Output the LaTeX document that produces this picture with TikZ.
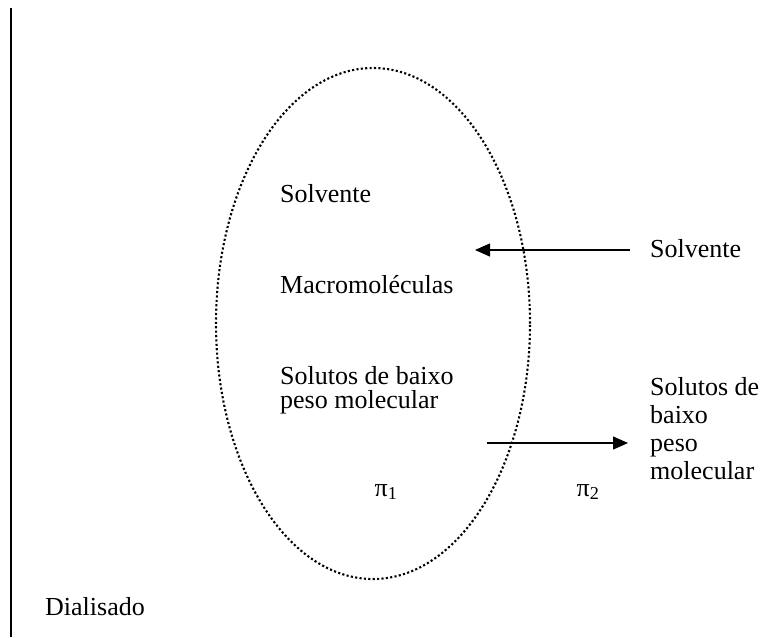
\documentclass[tikz,border=0pt]{standalone}
\usepackage{fontspec}
\setmainfont{Liberation Serif}
\usetikzlibrary{arrows.meta,shapes.geometric}
\begin{document}
\begin{tikzpicture}[x=1pt,y=-1pt,
  lbl/.style={anchor=base west,inner sep=0pt,font=\fontsize{26}{30}\selectfont},
  pilbl/.style={anchor=base,inner sep=0pt,font=\fontsize{26}{30}\selectfont},
  flow/.style={line width=1.3pt,-{Triangle[length=15pt,width=13pt]}},
  membrane/.style={line width=2.1pt,dash pattern=on 2.1pt off 2.3pt}]
\useasboundingbox (0,0) rectangle (783,637);
\draw[line width=1.6pt] (11,8) coordinate (wtop) -- (11,637) coordinate (wbot);
\node[membrane,draw,ellipse,minimum width=314pt,minimum height=511pt,inner sep=0pt] (memb) at (373,323.5) {};
\node[lbl] (solv1) at (280,202) {Solvente};
\node[lbl] (macro) at (280,293) {Macromoléculas};
\node[lbl] (sol1a) at (280,384) {Solutos de baixo};
\node[lbl] (sol1b) at (280,408) {peso molecular};
\node[pilbl] (pi1) at (386,496) {π\textsubscript{1}};
\node[pilbl] (pi2) at (588,496) {π\textsubscript{2}};
\node[lbl] (solv2) at (650,257) {Solvente};
\node[lbl] (sol2a) at (650,395) {Solutos de};
\node[lbl] (sol2b) at (650,423) {baixo};
\node[lbl] (sol2c) at (650,451) {peso};
\node[lbl] (sol2d) at (650,479) {molecular};
\node[lbl] (dial) at (45,615) {Dialisado};
\coordinate (a1s) at (630,250);
\coordinate (a1e) at (475,250);
\coordinate (a2s) at (487,443);
\coordinate (a2e) at (628,443);
\draw[flow] (a1s) -- (a1e);
\draw[flow] (a2s) -- (a2e);
\end{tikzpicture}
\end{document}
